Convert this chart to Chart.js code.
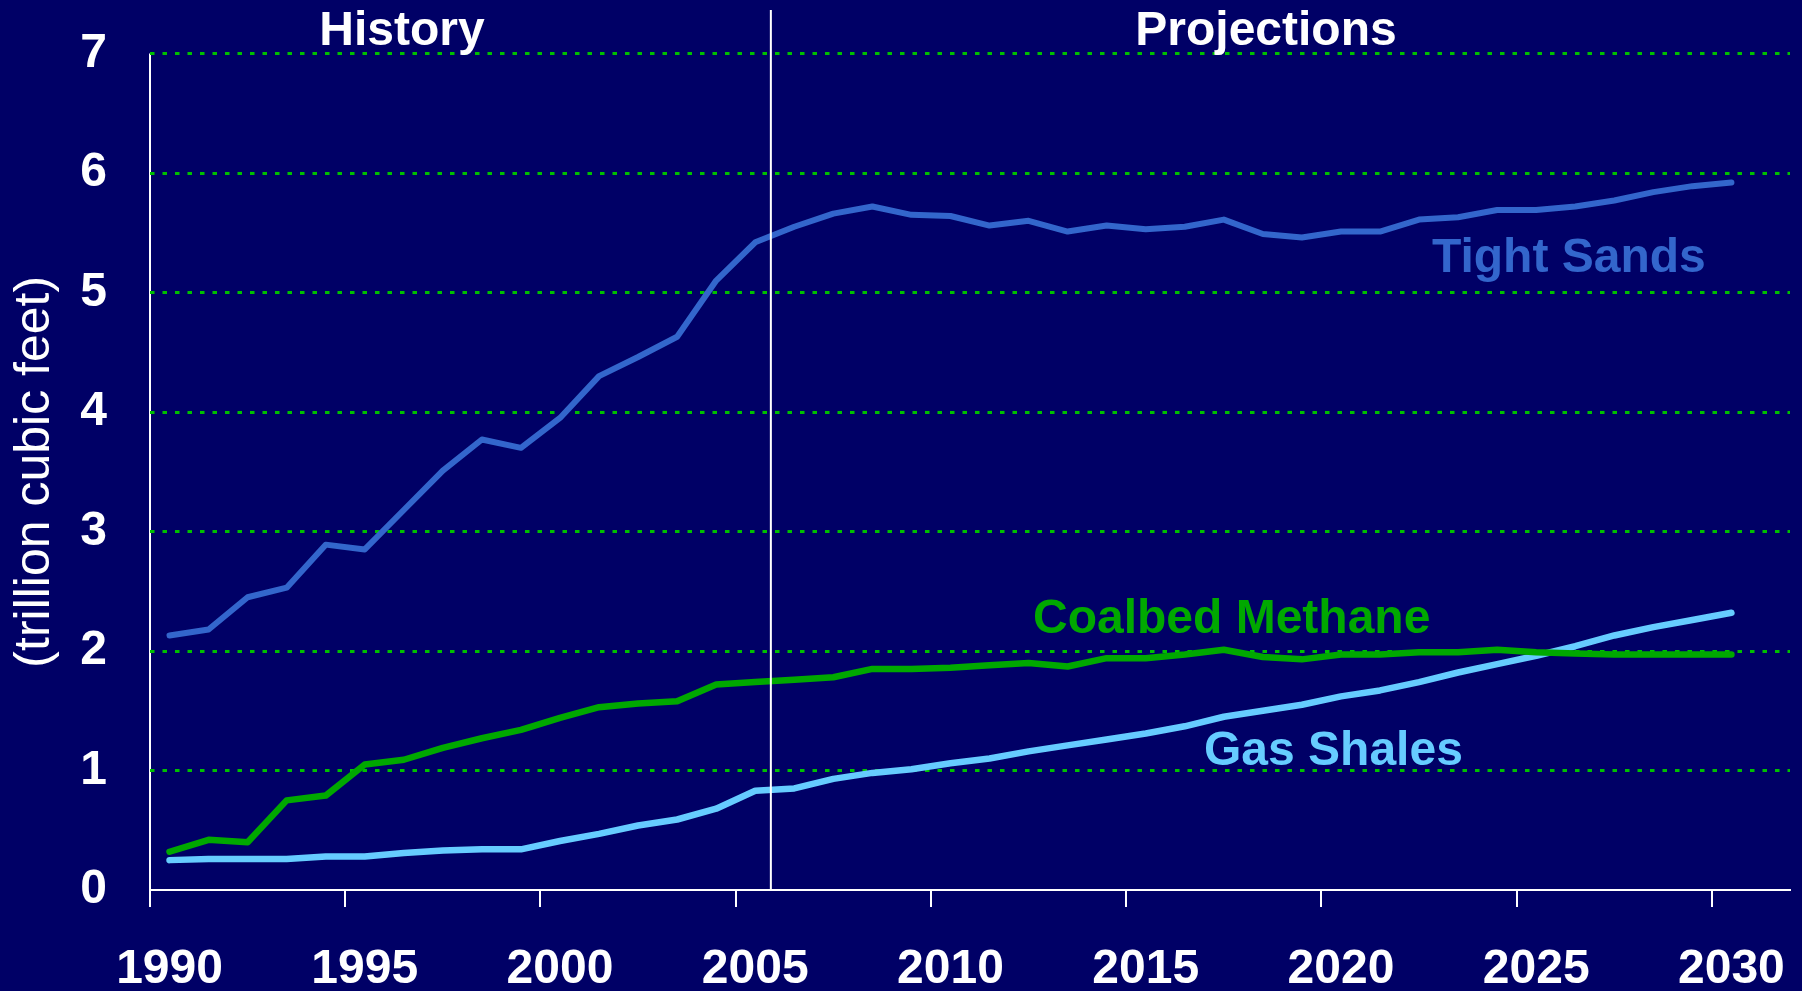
<!DOCTYPE html>
<html>
<head>
<meta charset="utf-8">
<script src="https://cdn.jsdelivr.net/npm/chart.js@4.4.1/dist/chart.umd.min.js"></script>
<style>
html,body{margin:0;padding:0;background:#000066;overflow:hidden}
canvas{display:block}
</style>
</head>
<body>
<canvas id="c" width="1802" height="991"></canvas>
<script>
// ---- data ----
const years = ['1990','1991','1992','1993','1994','1995','1996','1997','1998','1999',
  '2000','2001','2002','2003','2004','2005','2006','2007','2008','2009',
  '2010','2011','2012','2013','2014','2015','2016','2017','2018','2019',
  '2020','2021','2022','2023','2024','2025','2026','2027','2028','2029',
  '2030',''];
const tickYears = ['1990','1995','2000','2005','2010','2015','2020','2025','2030'];
const yTicks = [0,1,2,3,4,5,6,7];
const seriesNames = ['Tight Sands','Coalbed Methane','Gas Shales'];
const headers = ['History','Projections'];
const yTitle = '(trillion cubic feet)';

const tightSands = [2.13,2.18,2.45,2.53,2.89,2.85,3.18,3.51,3.77,3.70,
  3.95,4.30,4.46,4.63,5.10,5.42,5.55,5.66,5.72,5.65,
  5.64,5.56,5.60,5.51,5.56,5.53,5.55,5.61,5.49,5.46,
  5.51,5.51,5.61,5.63,5.69,5.69,5.72,5.77,5.84,5.89,
  5.92];
const coalbedMethane = [0.32,0.42,0.40,0.75,0.79,1.05,1.09,1.19,1.27,1.34,
  1.44,1.53,1.56,1.58,1.72,1.74,1.76,1.78,1.85,1.85,
  1.86,1.88,1.90,1.87,1.94,1.94,1.97,2.01,1.95,1.93,
  1.97,1.97,1.99,1.99,2.01,1.99,1.98,1.97,1.97,1.97,
  1.97];
const gasShales = [0.25,0.26,0.26,0.26,0.28,0.28,0.31,0.33,0.34,0.34,
  0.41,0.47,0.54,0.59,0.68,0.83,0.85,0.93,0.98,1.01,
  1.06,1.10,1.16,1.21,1.26,1.31,1.37,1.45,1.50,1.55,
  1.62,1.67,1.74,1.82,1.89,1.96,2.04,2.13,2.20,2.26,
  2.32];

// ---- styles ----
const BG = '#000066';
const C_TIGHT = '#3366CC';
const C_COAL = '#00A800';
const C_SHALE = '#66CCFF';
const C_GRID = '#00C000';
const FONT = '"Liberation Sans", Arial, Helvetica, sans-serif';

const annot = {
  id: 'annot',
  beforeDraw(chart) {
    const ctx = chart.ctx;
    ctx.save();
    ctx.fillStyle = BG;
    ctx.fillRect(0, 0, chart.width, chart.height);
    ctx.restore();
  },
  afterDatasetsDraw(chart) {
    const ctx = chart.ctx;
    const xs = chart.scales.x, ys = chart.scales.y;
    const a = xs.getPixelForValue(15), b = xs.getPixelForValue(16);
    const xd = a + 0.4 * (b - a);
    ctx.save();
    ctx.strokeStyle = '#ffffff';
    ctx.lineWidth = 2;
    ctx.beginPath();
    ctx.moveTo(xd, 10);
    ctx.lineTo(xd, ys.getPixelForValue(0));
    ctx.stroke();

    ctx.font = 'bold 48px ' + FONT;
    ctx.textBaseline = 'alphabetic';
    ctx.textAlign = 'center';
    ctx.fillStyle = '#ffffff';
    ctx.fillText(headers[0], 402, 45);
    ctx.fillText(headers[1], 1266, 45);

    ctx.textAlign = 'left';
    ctx.fillStyle = C_TIGHT;
    ctx.fillText(seriesNames[0], 1432, 272);
    ctx.fillStyle = C_COAL;
    ctx.fillText(seriesNames[1], 1033, 633);
    ctx.fillStyle = C_SHALE;
    ctx.fillText(seriesNames[2], 1204, 765);
    ctx.restore();
  }
};

new Chart(document.getElementById('c'), {
  type: 'line',
  data: {
    labels: years,
    datasets: [
      { label: seriesNames[0], data: tightSands, borderColor: C_TIGHT, borderWidth: 6 },
      { label: seriesNames[1], data: coalbedMethane, borderColor: C_COAL, borderWidth: 6.5 },
      { label: seriesNames[2], data: gasShales, borderColor: C_SHALE, borderWidth: 6.5 }
    ]
  },
  options: {
    responsive: false,
    animation: false,
    devicePixelRatio: 1,
    layout: { padding: { top: 53.5, right: 12, bottom: 0, left: 0 } },
    elements: {
      point: { radius: 0, hoverRadius: 0 },
      line: { tension: 0, borderCapStyle: 'round', borderJoinStyle: 'round', fill: false }
    },
    plugins: { legend: { display: false }, tooltip: { enabled: false } },
    scales: {
      x: {
        type: 'category',
        offset: true,
        afterFit: s => { s.height = 101; s.paddingLeft = 0; s.paddingRight = 0; },
        grid: {
          offset: true,
          drawOnChartArea: true,
          color: c => c.index === 0 ? '#ffffff' : 'rgba(0,0,0,0)',
          lineWidth: 2,
          tickLength: 17,
          tickWidth: 2,
          tickColor: c => (c.index % 5 === 0 && c.index <= 40) ? '#ffffff' : 'rgba(0,0,0,0)'
        },
        border: { display: true, color: '#ffffff', width: 2 },
        ticks: {
          autoSkip: false,
          maxRotation: 0,
          minRotation: 0,
          padding: 34,
          color: '#ffffff',
          font: { family: FONT, size: 48, weight: 'bold' },
          callback: function (v, i) { return tickYears.includes(years[i]) ? years[i] : ''; }
        }
      },
      y: {
        min: 0,
        max: 7,
        afterFit: s => { s.width = 150; s.paddingTop = 0; s.paddingBottom = 0; },
        afterBuildTicks: s => { s.ticks = yTicks.map(v => ({ value: v })); },
        grid: {
          drawTicks: false,
          color: c => c.tick && c.tick.value === 0 ? 'rgba(0,0,0,0)' : C_GRID,
          lineWidth: 3
        },
        border: { display: false, dash: [4.5, 8] },
        ticks: {
          padding: 43,
          color: '#ffffff',
          font: { family: FONT, size: 48, weight: 'bold' }
        },
        title: {
          display: true,
          text: yTitle,
          color: '#ffffff',
          font: { family: FONT, size: 50, weight: 'normal' },
          padding: { top: 5, bottom: 0 }
        }
      }
    }
  },
  plugins: [annot]
});
</script>
</body>
</html>
